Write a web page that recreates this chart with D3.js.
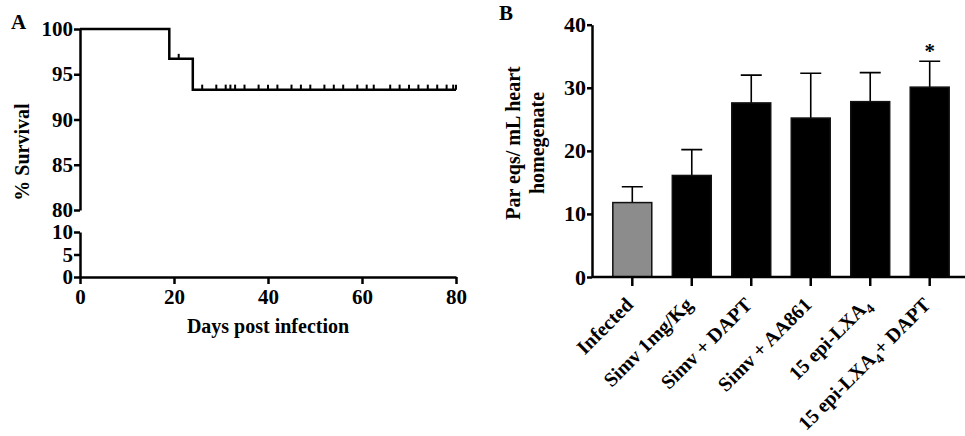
<!DOCTYPE html>
<html>
<head>
<meta charset="utf-8">
<script src="https://cdn.jsdelivr.net/npm/d3@7"></script>
<style>
  body { margin: 0; background: #fff; }
  svg text { font-family: "Liberation Serif", "DejaVu Serif", serif; font-weight: bold; fill: #000; }
</style>
</head>
<body>
<script>
// ---- panel A data (Kaplan-Meier) ----
const stepDays = [0, 19, 24, 80];
const stepSurvival = [100, 96.7, 93.3, 93.3];
const censorDays = [21, 26, 29, 31, 32, 33, 35, 38, 40, 42, 45, 47, 49, 52, 54, 56, 59, 61, 62.5, 66, 68, 70, 72, 74, 76, 78, 79.4, 80];
const xTicksA = [0, 20, 40, 60, 80];
const yTicksTop = [80, 85, 90, 95, 100];
const yTicksBottom = [0, 5, 10];

// ---- panel B data ----
const groups = ["Infected", "Simv 1mg/Kg", "Simv + DAPT", "Simv + AA861", "15 epi-LXA4", "15 epi-LXA4+ DAPT"];
const means = [11.8, 16.1, 27.6, 25.2, 27.8, 30.1];
const errors = [2.5, 4.1, 4.4, 7.1, 4.6, 4.1];
const yTicksB = [0, 10, 20, 30, 40];
const starred = ["15 epi-LXA4+ DAPT"];

const width = 965, height = 436;
const svg = d3.select("body").append("svg")
    .attr("width", width)
    .attr("height", height);

function styleAxis(g, sw, fs) {
    g.select(".domain").attr("stroke", "#000").attr("stroke-width", sw);
    g.selectAll(".tick line").attr("stroke", "#000").attr("stroke-width", sw);
    g.selectAll(".tick text").style("font-size", fs + "px").attr("fill", "#000");
}

// ================= Panel A =================
const xA = d3.scaleLinear().domain([0, 80]).range([80, 456]);
const yTop = d3.scaleLinear().domain([80, 100]).range([210, 29]);
const yBot = d3.scaleLinear().domain([0, 10]).range([277, 232]);

svg.append("text").attr("x", 11).attr("y", 29).style("font-size", "21px").text("A");

svg.append("g")
    .attr("transform", "translate(80,0)")
    .call(d3.axisLeft(yTop).tickValues(yTicksTop).tickSize(6).tickSizeOuter(0).tickPadding(1))
    .call(g => styleAxis(g, 2.5, 21));

svg.append("g")
    .attr("transform", "translate(80,0)")
    .call(d3.axisLeft(yBot).tickValues(yTicksBottom).tickSize(6).tickSizeOuter(0).tickPadding(1))
    .call(g => styleAxis(g, 2.5, 21));

svg.append("g")
    .attr("transform", "translate(0,277)")
    .call(d3.axisBottom(xA).tickValues(xTicksA).tickSize(7).tickSizeOuter(0).tickPadding(5))
    .call(g => styleAxis(g, 2.5, 21));

const survData = stepDays.map((d, i) => ({day: d, s: stepSurvival[i]}));
const survLine = d3.line()
    .x(d => xA(d.day))
    .y(d => yTop(d.s))
    .curve(d3.curveStepAfter);

svg.append("path")
    .datum(survData)
    .attr("d", survLine)
    .attr("fill", "none")
    .attr("stroke", "#000")
    .attr("stroke-width", 2.5);

function survivalAt(day) {
    let s = stepSurvival[0];
    stepDays.forEach((d, i) => { if (d <= day) s = stepSurvival[i]; });
    return s;
}

svg.selectAll(".censor")
    .data(censorDays)
    .enter().append("line")
    .attr("class", "censor")
    .attr("x1", d => xA(d)).attr("x2", d => xA(d))
    .attr("y1", d => yTop(survivalAt(d)))
    .attr("y2", d => yTop(survivalAt(d)) - 5)
    .attr("stroke", "#000")
    .attr("stroke-width", 2);

svg.append("text")
    .attr("transform", "translate(29,152) rotate(-90)")
    .attr("text-anchor", "middle")
    .style("font-size", "20px")
    .text("% Survival");

svg.append("text")
    .attr("x", 268).attr("y", 333)
    .attr("text-anchor", "middle")
    .style("font-size", "20px")
    .text("Days post infection");

// ================= Panel B =================
const xB = d3.scaleBand().domain(groups).range([592, 970]).paddingInner(0.345).paddingOuter(0.35);
const yB = d3.scaleLinear().domain([0, 40]).range([277, 24.7]);

svg.append("text").attr("x", 499).attr("y", 20).style("font-size", "21px").text("B");

const barData = groups.map((g, i) => ({g: g, m: means[i], e: errors[i]}));

svg.selectAll(".err")
    .data(barData)
    .enter().append("path")
    .attr("class", "err")
    .attr("d", d => {
        const cx = xB(d.g) + xB.bandwidth() / 2;
        const top = yB(d.m + d.e);
        return `M${cx},${yB(d.m)}V${top}M${cx - 10.5},${top}H${cx + 10.5}`;
    })
    .attr("fill", "none")
    .attr("stroke", "#000")
    .attr("stroke-width", 1.6);

svg.selectAll(".bar")
    .data(barData)
    .enter().append("rect")
    .attr("class", "bar")
    .attr("x", d => xB(d.g))
    .attr("y", d => yB(d.m))
    .attr("width", xB.bandwidth())
    .attr("height", d => yB(0) - yB(d.m))
    .attr("fill", (d, i) => i === 0 ? "#8c8c8c" : "#000")
    .attr("stroke", "#111")
    .attr("stroke-width", 1.5);

svg.selectAll(".star")
    .data(barData.filter(d => starred.includes(d.g)))
    .enter().append("text")
    .attr("class", "star")
    .attr("x", d => xB(d.g) + xB.bandwidth() / 2)
    .attr("y", d => yB(d.m + d.e) - 3)
    .attr("text-anchor", "middle")
    .style("font-size", "21px")
    .text("*");

svg.append("g")
    .attr("transform", "translate(592,0)")
    .call(d3.axisLeft(yB).tickValues(yTicksB).tickSize(5).tickSizeOuter(0).tickPadding(1))
    .call(g => styleAxis(g, 2.5, 22));

const xAxisB = svg.append("g")
    .attr("transform", "translate(0,277)")
    .call(d3.axisBottom(xB).tickSize(9).tickSizeOuter(0))
    .call(g => styleAxis(g, 2.5, 20));
xAxisB.select(".domain").attr("d", "M592,0H965");

// rotated category labels with subscript 4
xAxisB.selectAll(".tick text").each(function(d) {
    const t = d3.select(this);
    t.text(null)
        .attr("text-anchor", "end")
        .attr("dy", null)
        .attr("y", null)
        .attr("transform", "translate(2,29) rotate(-45)")
        .style("font-size", "20px");
    const parts = d.split("LXA4");
    if (parts.length === 1) {
        t.text(d);
    } else {
        t.append("tspan").text(parts[0] + "LXA");
        t.append("tspan").attr("dy", 5).style("font-size", "14px").text("4");
        t.append("tspan").attr("dy", -5).text(parts[1]);
    }
});

const yLabel = svg.append("text")
    .attr("transform", "translate(520,143) rotate(-90)")
    .attr("text-anchor", "middle")
    .style("font-size", "20px");
yLabel.append("tspan").attr("x", 0).attr("y", 0).text("Par eqs/ mL heart");
yLabel.append("tspan").attr("x", 0).attr("y", 24).text("homegenate");
</script>
</body>
</html>
